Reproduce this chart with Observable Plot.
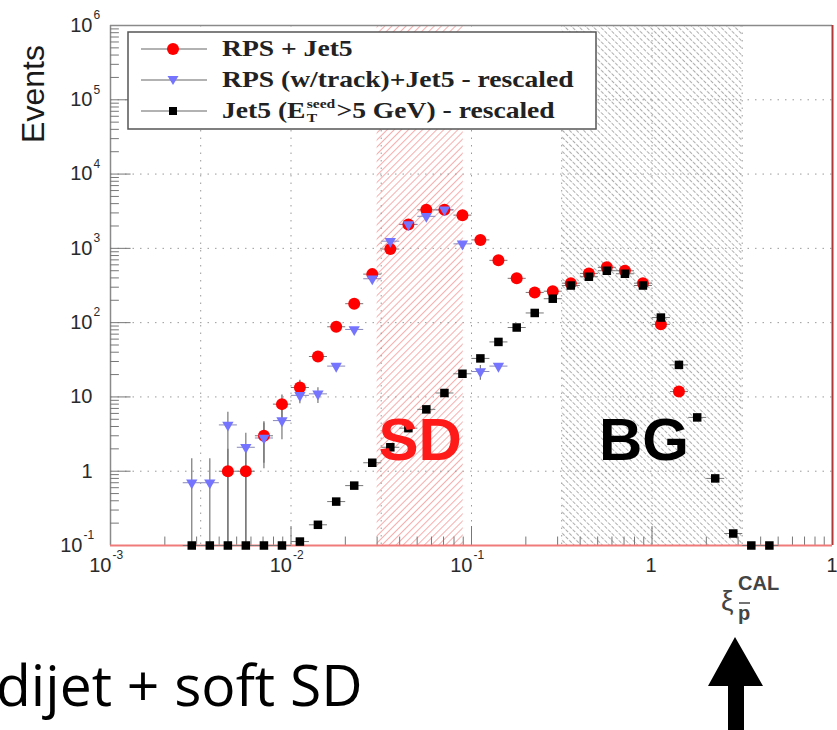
<!DOCTYPE html>
<html><head><meta charset="utf-8">
<script src="https://cdn.jsdelivr.net/npm/d3@7"></script>
<script src="https://cdn.jsdelivr.net/npm/@observablehq/plot@0.6"></script>
<style>
html,body{margin:0;padding:0;background:#fff;overflow:hidden}
#chart{position:relative;width:837px;height:730px}
</style></head><body><div id="chart"></div>
<script>
// ---- data ----
const binCenters = [0.00282,0.00355,0.00447,0.00562,0.00708,0.00891,0.0112,0.0141,0.0178,0.0224,0.0282,0.0355,0.0447,0.0562,0.0708,0.0891,0.112,0.141,0.178,0.224,0.282,0.355,0.447,0.562,0.708,0.891,1.12,1.41,1.78,2.24,2.82,3.55,4.47];
const rpsJet5   = [null,null,1,1,3,8,13.4,35,88,180,450,980,2100,3300,3300,2800,1300,690,395,255,265,340,460,555,500,340,95,11.8,null,null,null,null,null];
const rpsJet5Lo = [null,null,0.1,0.1,1.3,5.2,9.8,null,null,null,null,null,null,null,null,null,null,null,null,null,null,null,null,null,null,null,null,null,null,null,null,null,null];
const rpsJet5Hi = [null,null,2,2,4.7,10.8,17,null,null,null,null,null,null,null,null,null,null,null,null,null,null,null,null,null,null,null,null,null,null,null,null,null,null];
const rpsTrack   = [0.7,0.7,4.2,2.1,2.8,4.8,10.5,11,26,81,390,1250,2100,2700,3300,1150,22,26,null,null,null,null,null,null,null,null,null,null,null,null,null,null,null];
const rpsTrackLo = [0.1,0.1,0.1,0.1,1.1,2.7,8.2,8.3,null,null,null,null,null,null,null,null,17,null,null,null,null,null,null,null,null,null,null,null,null,null,null,null,null];
const rpsTrackHi = [1.5,1.5,6.3,3.3,4.5,6.8,13,13.5,null,null,null,null,null,null,null,null,27,null,null,null,null,null,null,null,null,null,null,null,null,null,null,null,null];
const jet5 = [0.1,0.1,0.1,0.1,0.1,0.1,0.113,0.19,0.39,0.64,1.3,2.1,3.8,6.8,11.3,20.5,33,55,86,135,210,316,415,500,455,316,117,27,5.3,0.8,0.145,0.1,0.1];

const seriesNames = ["RPS + Jet5", "RPS (w/track)+Jet5 - rescaled", "Jet5 (E_T^seed>5 GeV) - rescaled"];
const sdRange = [0.03, 0.09];
const bgRange = [0.316, 3.16];
const regionNames = ["SD", "BG"];

const xTickVals = [0.001, 0.01, 0.1, 1, 10];
const xTickBase = ["10", "10", "10", "1", "10"];
const xTickExp  = ["-3", "-2", "-1", "", ""];
const yTickVals = [1e6, 1e5, 1e4, 1e3, 100, 10, 1, 0.1];
const yTickBase = ["10", "10", "10", "10", "10", "10", "1", "10"];
const yTickExp  = ["6", "5", "4", "3", "2", "", "", "-1"];
const yGridVals = [1, 10, 100, 1e3, 1e4, 1e5];
const xGridVals = [0.00316, 0.01, 0.0316, 0.1, 0.316, 1, 3.16];

// ---- derived tables ----
const rows = binCenters.map((x, i) => ({x, red: rpsJet5[i], redLo: rpsJet5Lo[i], redHi: rpsJet5Hi[i],
  blue: rpsTrack[i], blueLo: rpsTrackLo[i], blueHi: rpsTrackHi[i], black: jet5[i]}));
const redRows = rows.filter(d => d.red != null);
const blueRows = rows.filter(d => d.blue != null);
const blackRows = rows.filter(d => d.black != null);
const halfBin = Math.pow(10, 0.05);

const yMinor = [], xMinor = [];
for (let e = -1; e < 6; e++) for (let m = 2; m < 10; m++) yMinor.push(m * Math.pow(10, e));
for (let e = -3; e < 1; e++) for (let m = 2; m < 10; m++) xMinor.push(m * Math.pow(10, e));
const yMajor = [1, 10, 100, 1e3, 1e4, 1e5];
const xMajor = [0.01, 0.1, 1];

const yLab = yTickVals.map((v, i) => ({v, b: yTickBase[i], e: yTickExp[i]}));
const xLab = xTickVals.map((v, i) => ({v, b: xTickBase[i], e: xTickExp[i]}));

const SD_RED = "#ff1a1a";
const BLUE = "#7474ff";
const tickFont = "Liberation Sans, Arial, sans-serif";
const lab = {fill: "#2a2a2a", fontFamily: tickFont};

const chart = Plot.plot({
  width: 837, height: 730,
  marginLeft: 110, marginRight: 5, marginTop: 25, marginBottom: 185,
  x: {type: "log", domain: [1e-3, 10], axis: null},
  y: {type: "log", domain: [0.1, 1e6], axis: null},
  style: {background: "white", fontFamily: tickFont, overflow: "visible"},
  marks: [
    // hatched regions
    Plot.rect([sdRange], {x1: d => d[0], x2: d => d[1], y1: 0.1, y2: 1e6, fill: "url(#hatchSD)"}),
    Plot.rect([bgRange], {x1: d => d[0], x2: d => d[1], y1: 0.1, y2: 1e6, fill: "url(#hatchBG)"}),
    // grid
    Plot.ruleY(yGridVals, {stroke: "#9a9a9a", strokeWidth: 1, strokeDasharray: "1.5,6"}),
    Plot.ruleX(xGridVals, {stroke: "#9a9a9a", strokeWidth: 1, strokeDasharray: "1.5,6"}),
    // frame
    Plot.ruleY([1e6], {stroke: "#8a8a8a", strokeWidth: 1.5}),
    Plot.ruleX([1e-3], {stroke: "#8a8a8a", strokeWidth: 1.5}),
    Plot.ruleX([10], {stroke: "#b03838", strokeWidth: 2}),
    // axis ticks (inside the frame)
    Plot.ruleY(yMinor, {x1: 1e-3, x2: 1.12e-3, stroke: "#777"}),
    Plot.ruleY(yMajor, {x1: 1e-3, x2: 1.3e-3, stroke: "#777"}),
    Plot.ruleX(xMinor, {y1: 0.1, y2: 0.13, stroke: "#777"}),
    Plot.ruleX(xMajor, {y1: 0.1, y2: 0.18, stroke: "#777"}),
    Plot.ruleY([0.1], {stroke: "#f07a7a", strokeWidth: 2}),
    // error bars
    Plot.link(redRows.filter(d => d.redLo != null), {x1: "x", x2: "x", y1: "redLo", y2: "redHi", stroke: "#666", strokeWidth: 1.2}),
    Plot.link(blueRows.filter(d => d.blueLo != null), {x1: "x", x2: "x", y1: "blueLo", y2: "blueHi", stroke: "#777", strokeWidth: 1.2}),
    Plot.link(redRows, {x1: d => d.x / halfBin, x2: d => d.x * halfBin, y1: "red", y2: "red", stroke: "#777"}),
    Plot.link(blueRows, {x1: d => d.x / halfBin, x2: d => d.x * halfBin, y1: "blue", y2: "blue", stroke: "#8888bb"}),
    Plot.link(blackRows, {x1: d => d.x / halfBin, x2: d => d.x * halfBin, y1: "black", y2: "black", stroke: "#777"}),
    // markers
    Plot.dot(redRows, {x: "x", y: "red", r: 6, fill: "#ff0000"}),
    Plot.dot(blueRows, {x: "x", y: "blue", r: 4.2, symbol: "triangle", rotate: 180, fill: BLUE}),
    Plot.dot(blackRows, {x: "x", y: "black", r: 4.8, symbol: "square", fill: "#000"}),
    // region labels
    Plot.text([regionNames[0]], {x: Math.sqrt(sdRange[0] * sdRange[1]), y: 2.6, text: d => d, fill: SD_RED, fontSize: 60, fontWeight: "bold", fontFamily: tickFont}),
    Plot.text([regionNames[1]], {x: Math.sqrt(bgRange[0] * bgRange[1]), y: 2.6, dx: -8, text: d => d, fill: "#000", fontSize: 60, fontWeight: "bold", fontFamily: tickFont}),
    // y tick labels
    Plot.text(yLab.filter(d => d.e.length <= 1), {x: 1e-3, y: "v", text: "b", textAnchor: "end", fontSize: 20, dx: -18, ...lab}),
    Plot.text(yLab.filter(d => d.e.length > 1), {x: 1e-3, y: "v", text: "b", textAnchor: "end", fontSize: 20, dx: -28, ...lab}),
    Plot.text(yLab.filter(d => d.e.length === 1), {x: 1e-3, y: "v", text: "e", textAnchor: "start", fontSize: 12, dx: -17, dy: -10, ...lab}),
    Plot.text(yLab.filter(d => d.e.length > 1), {x: 1e-3, y: "v", text: "e", textAnchor: "start", fontSize: 12, dx: -27, dy: -10, ...lab}),
    // x tick labels
    Plot.text(xLab.filter(d => d.e !== ""), {x: "v", y: 0.1, text: "b", textAnchor: "end", fontSize: 20, dx: 1, dy: 20, ...lab}),
    Plot.text(xLab.filter(d => d.e !== ""), {x: "v", y: 0.1, text: "e", textAnchor: "start", fontSize: 12, dx: 2, dy: 10, ...lab}),
    Plot.text(xLab.filter(d => d.b === "1"), {x: "v", y: 0.1, text: "b", textAnchor: "middle", fontSize: 20, dx: -1, dy: 20, ...lab}),
    Plot.text(xLab.filter(d => d.b === "10" && d.e === ""), {x: "v", y: 0.1, text: "b", textAnchor: "start", fontSize: 20, dx: -6, dy: 20, ...lab})
  ]
});

document.getElementById("chart").appendChild(chart);
const svg = d3.select(chart);

// hatch patterns
const defs = svg.insert("defs", ":first-child");
const pSD = defs.append("pattern").attr("id", "hatchSD").attr("patternUnits", "userSpaceOnUse")
  .attr("width", 5).attr("height", 5).attr("patternTransform", "rotate(45)");
pSD.append("rect").attr("width", 5).attr("height", 5).attr("fill", "white");
pSD.append("line").attr("x1", 0).attr("y1", 0).attr("x2", 0).attr("y2", 5).attr("stroke", "#f26a6a").attr("stroke-width", 1.1);
const pBG = defs.append("pattern").attr("id", "hatchBG").attr("patternUnits", "userSpaceOnUse")
  .attr("width", 5).attr("height", 5).attr("patternTransform", "rotate(-45)");
pBG.append("rect").attr("width", 5).attr("height", 5).attr("fill", "white");
pBG.append("line").attr("x1", 0).attr("y1", 0).attr("x2", 0).attr("y2", 5).attr("stroke", "#5a5a5a").attr("stroke-width", 1).attr("stroke-dasharray", "3,1.5");

// y title
svg.append("text").attr("transform", "translate(44,94) rotate(-90)").attr("text-anchor", "middle")
  .attr("font-family", tickFont).attr("font-size", 32).attr("fill", "#1a1a1a").text("Events");

// legend
const lg = svg.append("g").attr("text-anchor", "start");
lg.append("rect").attr("x", 128).attr("y", 32).attr("width", 468).attr("height", 97)
  .attr("fill", "white").attr("stroke", "#555").attr("stroke-width", 1.5);
const rowY = [49, 80, 111];
const serif = "Liberation Serif, Times New Roman, serif";
rowY.forEach((y, i) => {
  lg.append("line").attr("x1", 141).attr("x2", 207).attr("y1", y).attr("y2", y).attr("stroke", "#999").attr("stroke-width", 1.3);
  if (i === 0) lg.append("circle").attr("cx", 173).attr("cy", y).attr("r", 6).attr("fill", "#ff0000");
  if (i === 1) lg.append("path").attr("d", `M${173-5.5},${y-4} L${173+5.5},${y-4} L173,${y+5} Z`).attr("fill", BLUE);
  if (i === 2) lg.append("rect").attr("x", 169).attr("y", y - 4).attr("width", 8).attr("height", 8).attr("fill", "#000");
  const g = lg.append("g").attr("transform", `translate(222,${y + 7}) scale(1.2,1)`);
  const txtAttr = s => s.attr("font-family", serif).attr("font-weight", "bold").attr("fill", "#222").attr("text-anchor", "start");
  if (i < 2) {
    txtAttr(g.append("text").attr("font-size", 23).text(seriesNames[i]));
  } else {
    const t1 = txtAttr(g.append("text").attr("font-size", 23).text("Jet5 (E"));
    const w1 = t1.node().getComputedTextLength();
    const sup = txtAttr(g.append("text").attr("x", w1 + 1).attr("y", -10).attr("font-size", 13).text("seed"));
    txtAttr(g.append("text").attr("x", w1 + 1).attr("y", 4).attr("font-size", 13).text("T"));
    const w2 = sup.node().getComputedTextLength();
    txtAttr(g.append("text").attr("x", w1 + w2 + 2).attr("font-size", 23).text(">5 GeV) - rescaled"));
  }
});

// x-axis variable label
const xl = svg.append("g").attr("fill", "#444").attr("font-family", tickFont).attr("text-anchor", "start");
xl.append("text").attr("x", 721).attr("y", 610).attr("font-size", 28).text("ξ");
xl.append("text").attr("x", 738).attr("y", 590).attr("font-size", 20).attr("font-weight", "bold").text("CAL");
xl.append("text").attr("x", 738).attr("y", 620).attr("font-size", 20).attr("font-weight", "bold").text("p");
xl.append("line").attr("x1", 739).attr("x2", 750).attr("y1", 603).attr("y2", 603).attr("stroke", "#444").attr("stroke-width", 1.5);

// arrow
svg.append("path").attr("d", "M735,637 L763,686 L744,686 L744,730 L728,730 L728,686 L708,686 Z").attr("fill", "#000");

// caption
svg.append("text").attr("x", -4).attr("y", 706).attr("text-anchor", "start")
  .attr("font-family", "Open Sans, sans-serif").attr("font-weight", 500)
  .attr("font-size", 57).attr("fill", "#000").text("dijet + soft SD");
</script></body></html>
